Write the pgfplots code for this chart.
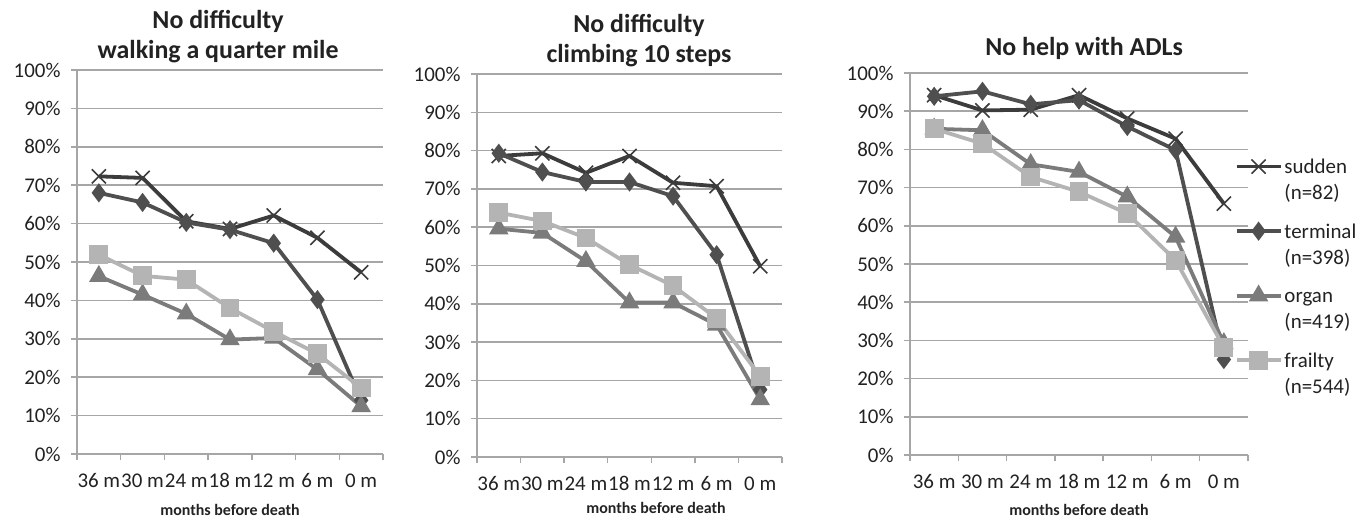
\documentclass[border=0pt]{standalone}
\usepackage{fontspec}
\setmainfont{Carlito}
\usepackage{pgfplots}
\usepackage{pgfplotstable}
\pgfplotsset{compat=1.18}
\definecolor{gridc}{HTML}{A6A6A6}
\definecolor{csudden}{HTML}{3C3C3C}
\definecolor{cterminal}{HTML}{4F4F4F}
\definecolor{corgan}{HTML}{7B7B7B}
\definecolor{cfrailty}{HTML}{B4B4B4}
\definecolor{txt}{HTML}{222222}

\pgfplotstableread{
x sudden terminal organ frailty
0 72.3 68.0 46.3 51.9
1 71.9 65.5 41.5 46.4
2 60.6 60.3 36.5 45.4
3 58.6 58.4 29.8 38.0
4 62.1 54.9 30.2 31.9
5 56.3 40.2 22.0 26.1
6 47.3 14.0 12.4 17.2
}\walking

\pgfplotstableread{
x sudden terminal organ frailty
0 78.6 79.3 59.6 63.8
1 79.3 74.4 58.5 61.6
2 74.2 71.8 51.1 57.2
3 78.6 71.8 40.3 50.2
4 71.6 68.1 40.3 44.7
5 70.7 52.8 34.5 36.2
6 49.8 17.6 15.0 21.1
}\climbing

\pgfplotstableread{
x sudden terminal organ frailty
0 94.2 93.9 85.4 85.4
1 90.2 95.2 85.0 81.5
2 90.4 91.8 76.1 72.8
3 94.2 92.9 74.1 68.9
4 88.1 86.0 67.6 63.2
5 82.8 79.8 57.1 51.0
6 65.8 25.0 29.2 28.2
}\adl

\pgfplotsset{
  panel/.style={
    scale only axis,
    xmin=-0.5, xmax=6.5, ymin=0, ymax=100,
    axis x line*=bottom, axis y line*=left,
    axis line style={draw=gridc, line width=1.5bp},
    ytick={0,10,...,100},
    yticklabels={0\%,10\%,20\%,30\%,40\%,50\%,60\%,70\%,80\%,90\%,100\%},
    ymajorgrids,
    grid style={draw=gridc, line width=1.5bp},
    xtick={0,...,6},
    xticklabels={36 m,30 m,24 m,18 m,12 m,6 m,0 m},
    minor xtick={-0.5,0.5,...,6.5},
    tick align=outside,
    major tick length=6bp, minor tick length=6bp,
    major x tick style={draw=none},
    every tick/.style={draw=gridc, line width=1.5bp},
    minor x tick style={draw=gridc, line width=1.5bp},
    major y tick style={draw=gridc, line width=1.5bp},
    ticklabel style={font=\fontsize{21}{25}\selectfont, text=txt},
    yticklabel style={xshift=-7bp},
    xticklabel style={yshift=-10bp},
    title style={font=\fontsize{26}{30}\selectfont\bfseries, text=txt, align=center, anchor=center},
    xlabel style={font=\fontsize{16}{19}\selectfont\bfseries, text=txt, anchor=center},
    clip=false,
  },
  ssudden/.style={csudden, line width=3.8bp, mark=x, mark size=10bp, mark options={line width=1.6bp}},
  sterminal/.style={cterminal, line width=3.8bp, mark=diamond*, mark size=6.5bp, mark options={solid}},
  sorgan/.style={corgan, line width=3.8bp, mark=triangle*, mark size=7.5bp, mark options={solid}},
  sfrailty/.style={cfrailty, line width=3.8bp, mark=square*, mark size=7.5bp, mark options={solid}},
}

\begin{document}
\begin{tikzpicture}
\useasboundingbox (0,0) rectangle (1371bp,531bp);

\begin{axis}[panel, at={(77bp,77bp)}, anchor=south west, width=306bp, height=384bp,
  title={No difficulty\\walking a quarter mile},
  title style={at={(axis description cs:0.461,1)}, yshift=27bp},
  xlabel={months before death},
  xlabel style={at={(axis description cs:0.5,0)}, yshift=-56bp}]
\addplot[ssudden] table[x=x,y=sudden] {\walking};
\addplot[sterminal] table[x=x,y=terminal] {\walking};
\addplot[sorgan] table[x=x,y=organ] {\walking};
\addplot[sfrailty] table[x=x,y=frailty] {\walking};
\end{axis}

\begin{axis}[panel, at={(477bp,74bp)}, anchor=south west, width=305bp, height=383bp,
  title={No difficulty\\climbing 10 steps},
  title style={at={(axis description cs:0.531,1)}, yshift=27bp},
  xlabel={months before death},
  xlabel style={at={(axis description cs:0.587,0)}, yshift=-51bp}]
\addplot[ssudden] table[x=x,y=sudden] {\climbing};
\addplot[sterminal] table[x=x,y=terminal] {\climbing};
\addplot[sorgan] table[x=x,y=organ] {\climbing};
\addplot[sfrailty] table[x=x,y=frailty] {\climbing};
\end{axis}

\begin{axis}[panel, at={(910bp,76bp)}, anchor=south west, width=338bp, height=382bp,
  title={No help with ADLs},
  title style={at={(axis description cs:0.515,1)}, yshift=19bp},
  xlabel={months before death},
  xlabel style={at={(axis description cs:0.5,0)}, yshift=-55bp},
  legend cell align=left,
  legend style={draw=none, fill=none, at={(axis description cs:0.96,0.79)}, anchor=north west,
    font=\fontsize{21}{26}\selectfont, text=txt, row sep=41bp, inner sep=0pt,
    cells={anchor=base west}},
  legend image code/.code={\draw[mark repeat=2,mark phase=2,#1] plot coordinates {(0bp,7bp) (22bp,7bp) (44bp,7bp)};}]
\addplot[ssudden] table[x=x,y=sudden] {\adl};
\addlegendentry{\begin{tabular}[t]{@{}l@{}}sudden\\(n=82)\end{tabular}}
\addplot[sterminal] table[x=x,y=terminal] {\adl};
\addlegendentry{\begin{tabular}[t]{@{}l@{}}terminal\\(n=398)\end{tabular}}
\addplot[sorgan] table[x=x,y=organ] {\adl};
\addlegendentry{\begin{tabular}[t]{@{}l@{}}organ\\(n=419)\end{tabular}}
\addplot[sfrailty] table[x=x,y=frailty] {\adl};
\addlegendentry{\begin{tabular}[t]{@{}l@{}}frailty\\(n=544)\end{tabular}}
\end{axis}
\end{tikzpicture}
\end{document}
